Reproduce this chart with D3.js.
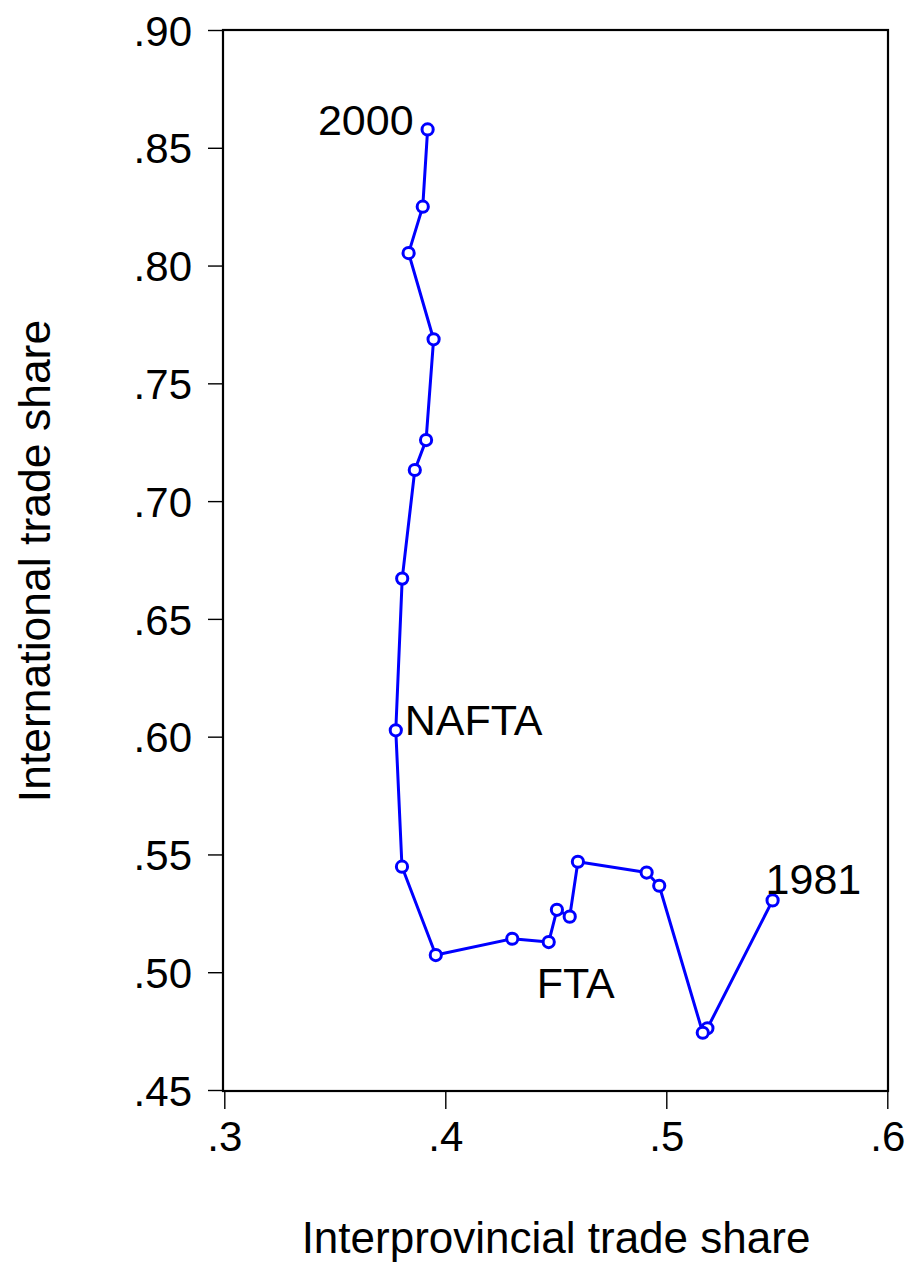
<!DOCTYPE html>
<html>
<head>
<meta charset="utf-8">
<script src="https://cdn.jsdelivr.net/npm/d3@7/dist/d3.min.js"></script>
<style>
  html, body { margin: 0; padding: 0; background: #fff; }
  svg text { font-family: "Liberation Sans", Arial, sans-serif; fill: #000; }
</style>
</head>
<body>
<svg id="chart" width="908" height="1265"></svg>
<script>
// Canada: interprovincial vs international trade shares, 1981–2000
const years = [1981, 1982, 1983, 1984, 1985, 1986, 1987, 1988, 1989, 1990,
               1991, 1992, 1993, 1994, 1995, 1996, 1997, 1998, 1999, 2000];
const interprovincialShare = [0.5481, 0.5186, 0.5165, 0.4968, 0.4911, 0.4600, 0.4563, 0.4505, 0.4468, 0.4303,
                              0.3957, 0.3804, 0.3776, 0.3805, 0.3862, 0.3913, 0.3947, 0.3834, 0.3898, 0.3920];
const internationalShare = [0.5305, 0.4762, 0.4743, 0.5367, 0.5423, 0.5469, 0.5236, 0.5265, 0.5128, 0.5142,
                            0.5073, 0.5448, 0.6027, 0.6671, 0.7132, 0.7259, 0.7687, 0.8053, 0.8250, 0.8578];

const xTicks = [0.3, 0.4, 0.5, 0.6];
const yTicks = [0.45, 0.50, 0.55, 0.60, 0.65, 0.70, 0.75, 0.80, 0.85, 0.90];

// Point annotations: label text and the year it sits beside
const annotations = [
  { text: "2000",  year: 2000, dx: -14, dy: 6,  anchor: "end" },
  { text: "NAFTA", year: 1993, dx: 9,   dy: 5,  anchor: "start" },
  { text: "FTA",   year: 1989, dx: -12, dy: 56, anchor: "start" },
  { text: "1981",  year: 1981, dx: -7,  dy: -6, anchor: "start" }
];

const data = years.map((yr, i) => ({ year: yr, x: interprovincialShare[i], y: internationalShare[i] }));

const svg = d3.select("#chart");
const frame = { left: 223, right: 888, top: 30, bottom: 1091 };

const x = d3.scaleLinear().domain([0.3, 0.6]).range([224.3, 887.3]);
const y = d3.scaleLinear().domain([0.45, 0.90]).range([1090, 30]);

const fmt = v => d3.format(".1f")(v).replace(/^0/, "");
const fmtY = v => d3.format(".2f")(v).replace(/^0/, "");

// Axes with outward ticks
const xAxis = d3.axisBottom(x).tickValues(xTicks).tickSize(18).tickPadding(12).tickFormat(fmt);
const yAxis = d3.axisLeft(y).tickValues(yTicks).tickSize(15).tickPadding(16).tickFormat(fmtY);

const gx = svg.append("g").attr("transform", `translate(0,${frame.bottom})`).call(xAxis);
const gy = svg.append("g").attr("transform", `translate(${frame.left},0)`).call(yAxis);

[gx, gy].forEach(g => {
  g.select(".domain").remove();
  g.selectAll(".tick line").attr("stroke", "#000").attr("stroke-width", 1.4);
  g.selectAll(".tick text")
    .attr("font-size", 42)
    .attr("font-family", "Liberation Sans, Arial, sans-serif")
    .attr("fill", "#000");
});
gx.selectAll(".tick text").attr("dy", "0.71em");
gy.selectAll(".tick text").attr("dy", "0.36em");

// Plot frame
svg.append("rect")
  .attr("x", frame.left).attr("y", frame.top)
  .attr("width", frame.right - frame.left).attr("height", frame.bottom - frame.top)
  .attr("fill", "none").attr("stroke", "#000").attr("stroke-width", 2.2);

// Connected path
const line = d3.line().x(d => x(d.x)).y(d => y(d.y));
svg.append("path")
  .datum(data)
  .attr("d", line)
  .attr("fill", "none")
  .attr("stroke", "#0000ff")
  .attr("stroke-width", 3)
  .attr("stroke-linejoin", "round");

// Hollow markers
svg.append("g").selectAll("circle")
  .data(data)
  .join("circle")
  .attr("cx", d => x(d.x))
  .attr("cy", d => y(d.y))
  .attr("r", 5.6)
  .attr("fill", "#fff")
  .attr("stroke", "#0000ff")
  .attr("stroke-width", 3);

// Annotations
svg.append("g").selectAll("text")
  .data(annotations)
  .join("text")
  .attr("x", a => x(data.find(d => d.year === a.year).x) + a.dx)
  .attr("y", a => y(data.find(d => d.year === a.year).y) + a.dy)
  .attr("text-anchor", a => a.anchor)
  .attr("font-size", 43)
  .text(a => a.text);

// Axis titles
svg.append("text")
  .attr("x", 556).attr("y", 1253)
  .attr("text-anchor", "middle")
  .attr("font-size", 44)
  .text("Interprovincial trade share");

svg.append("text")
  .attr("transform", "translate(50,561) rotate(-90)")
  .attr("text-anchor", "middle")
  .attr("font-size", 44.5)
  .text("International trade share");
</script>
</body>
</html>
